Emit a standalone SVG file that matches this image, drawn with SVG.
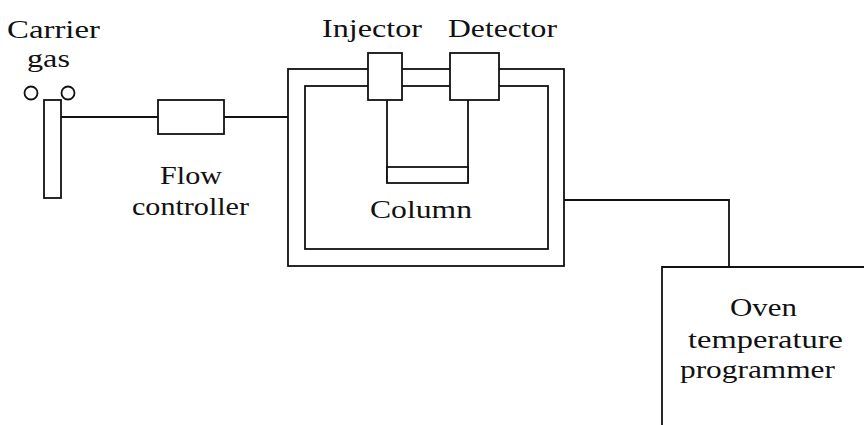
<svg xmlns="http://www.w3.org/2000/svg" width="864" height="425" viewBox="0 0 864 425">
<style>
.s{fill:none;stroke:#111;stroke-width:1.8}
.b{fill:#fff;stroke:#111;stroke-width:1.8}
.t{font-size:26px;fill:#111}
</style>
<rect width="864" height="425" fill="#fff"/>
<g id="connectors">
<path class="s" d="M61,117 H158"/>
<path class="s" d="M224,117 H288"/>
<path class="s" d="M387,100 V183 M468,100 V183"/>
<path class="s" d="M564,200 H729 V267"/>
</g>
<g font-family="Liberation Serif, Times New Roman, serif">
<g id="carrier-gas">
<circle class="s" cx="31" cy="93" r="6.5"/>
<circle class="s" cx="68" cy="93" r="6.5"/>
<rect class="b" x="44" y="100" width="17" height="98"/>
<text class="t" x="7" y="38" textLength="93" lengthAdjust="spacingAndGlyphs">Carrier</text>
<text class="t" x="27" y="67" textLength="43" lengthAdjust="spacingAndGlyphs">gas</text>
</g>
<g id="flow-controller">
<rect class="b" x="158" y="100" width="66" height="34"/>
<text class="t" x="160" y="184" textLength="62" lengthAdjust="spacingAndGlyphs">Flow</text>
<text class="t" x="132" y="215" textLength="117" lengthAdjust="spacingAndGlyphs">controller</text>
</g>
<g id="oven">
<rect class="s" x="288" y="69" width="276" height="197"/>
<rect class="s" x="305" y="86" width="243" height="163"/>
</g>
<g id="injector">
<rect class="b" x="368" y="53" width="34" height="47"/>
<text class="t" x="322" y="37" textLength="100" lengthAdjust="spacingAndGlyphs">Injector</text>
</g>
<g id="detector">
<rect class="b" x="450" y="53" width="49" height="47"/>
<text class="t" x="448" y="37" textLength="109" lengthAdjust="spacingAndGlyphs">Detector</text>
</g>
<g id="column">
<rect class="b" x="387" y="167" width="81" height="16"/>
<text class="t" x="370" y="218" textLength="102" lengthAdjust="spacingAndGlyphs">Column</text>
</g>
<g id="oven-temperature-programmer">
<path class="s" d="M662,425 V267 H864"/>
<text class="t" x="730" y="316" textLength="67" lengthAdjust="spacingAndGlyphs">Oven</text>
<text class="t" x="688" y="348" textLength="155" lengthAdjust="spacingAndGlyphs">temperature</text>
<text class="t" x="680" y="378" textLength="155" lengthAdjust="spacingAndGlyphs">programmer</text>
</g>
</g>
</svg>
